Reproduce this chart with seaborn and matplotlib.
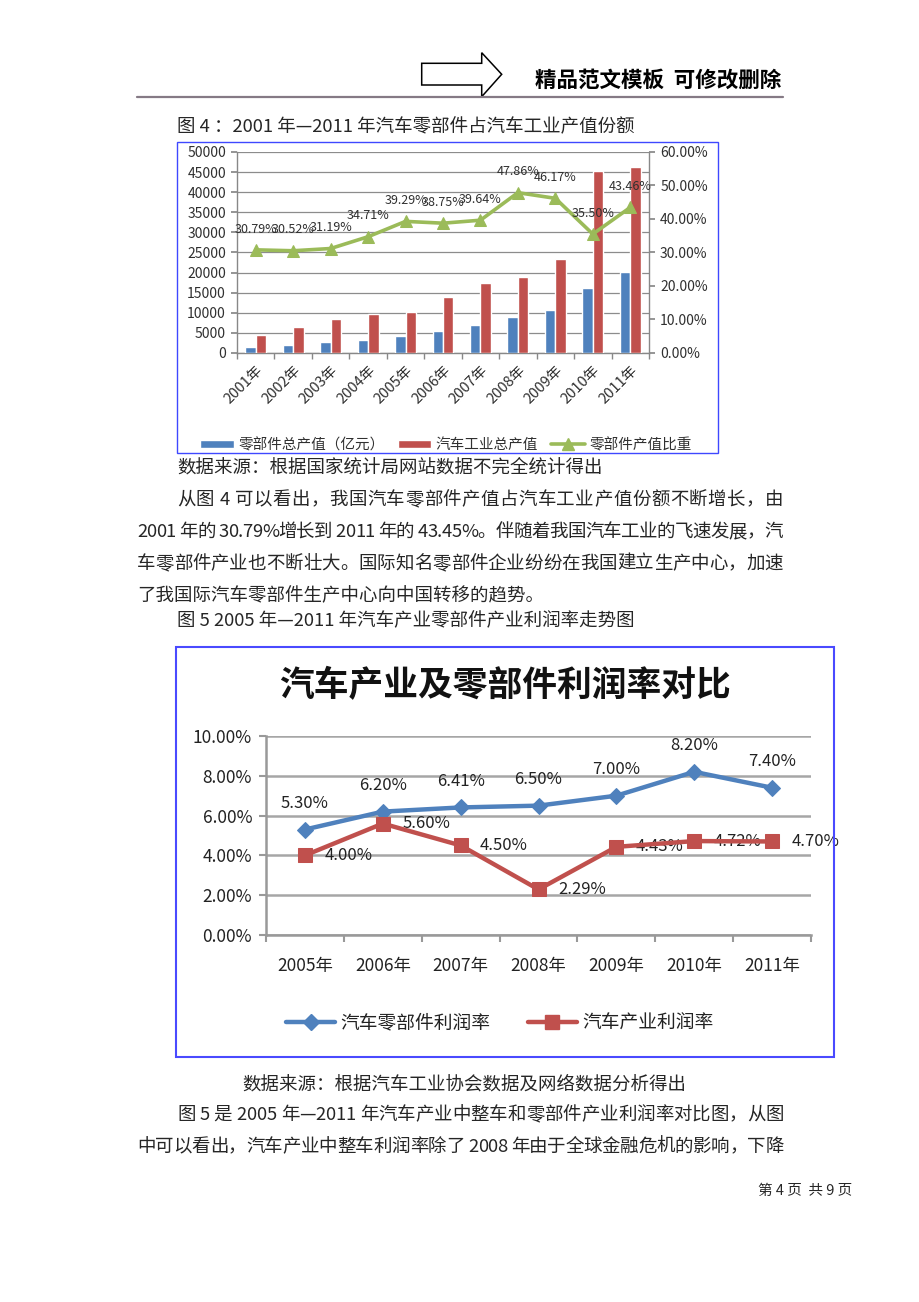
import numpy as np
import pandas as pd
import matplotlib
matplotlib.use("Agg")
import matplotlib.pyplot as plt
import seaborn as sns
from matplotlib.patches import Rectangle, Polygon, Patch
from matplotlib.lines import Line2D
from matplotlib.ticker import FixedLocator

# ---------------- data ----------------
years1 = ['2001年', '2002年', '2003年', '2004年', '2005年', '2006年',
          '2007年', '2008年', '2009年', '2010年', '2011年']
parts_value = [1500, 2070, 2730, 3300, 4130, 5540, 7020, 9000, 10740, 16200, 20170]
industry_value = [4380, 6450, 8430, 9670, 10170, 14050, 17440, 18840, 23470, 45290, 46200]
parts_share = [30.79, 30.52, 31.19, 34.71, 39.29, 38.75, 39.64, 47.86, 46.17, 35.50, 43.46]
series1 = ['零部件总产值（亿元）', '汽车工业总产值', '零部件产值比重']
left_ticks1 = [0, 5000, 10000, 15000, 20000, 25000, 30000, 35000, 40000, 45000, 50000]
right_ticks1 = [0, 10, 20, 30, 40, 50, 60]

years2 = ['2005年', '2006年', '2007年', '2008年', '2009年', '2010年', '2011年']
parts_profit = [5.30, 6.20, 6.41, 6.50, 7.00, 8.20, 7.40]
industry_profit = [4.00, 5.60, 4.50, 2.29, 4.43, 4.72, 4.70]
series2 = ['汽车零部件利润率', '汽车产业利润率']
yticks2 = [0, 2, 4, 6, 8, 10]

header_text = '精品范文模板  可修改删除'
caption4 = '图 4 ：2001 年—2011 年汽车零部件占汽车工业产值份额'
source4 = '数据来源：根据国家统计局网站数据不完全统计得出'
para1 = ['从图 4 可以看出，我国汽车零部件产值占汽车工业产值份额不断增长，由',
         '2001 年的 30.79%增长到 2011 年的 43.45%。伴随着我国汽车工业的飞速发展，汽',
         '车零部件产业也不断壮大。国际知名零部件企业纷纷在我国建立生产中心，加速',
         '了我国际汽车零部件生产中心向中国转移的趋势。']
caption5 = '图 5 2005 年—2011 年汽车产业零部件产业利润率走势图'
title5 = '汽车产业及零部件利润率对比'
source5 = '数据来源：根据汽车工业协会数据及网络数据分析得出'
para2 = ['图 5 是 2005 年—2011 年汽车产业中整车和零部件产业利润率对比图，从图',
         '中可以看出，汽车产业中整车利润率除了 2008 年由于全球金融危机的影响，下降']
footer = '第 4 页  共 9 页'

BLUE, RED, GREEN = '#4F81BD', '#C0504D', '#9BBB59'

# ---------------- figure ----------------
W, H = 920, 1302
sns.set_theme(style='white')
plt.rcParams['font.family'] = ['Noto Sans CJK SC', 'DejaVu Sans']
fig = plt.figure(figsize=(W / 100, H / 100), dpi=100)
fig.patch.set_facecolor('white')
renderer = fig.canvas.get_renderer()


def fx(x):
    return x / W


def fy(y):
    return 1 - y / H


def rect(x0, y0, x1, y1):
    return [x0 / W, 1 - y1 / H, (x1 - x0) / W, (y1 - y0) / H]


def text_width(s, size):
    t = fig.text(0, 0, s, fontsize=size)
    w = t.get_window_extent(renderer).width
    t.remove()
    return w


def justified(x0, x1, y, s, size):
    base = text_width('xx', size)
    widths = [text_width('x' + ch + 'x', size) - base for ch in s]
    extra = (x1 - x0 - sum(widths)) / (len(s) - 1)
    x = x0
    for ch, w in zip(s, widths):
        if ch != ' ':
            fig.text(fx(x), fy(y), ch, fontsize=size, ha='left', va='center')
        x += w + extra


# header arrow and rule
arrow_px = [(421.7, 63.3), (481.7, 63.3), (481.7, 52.7), (501.7, 74.3),
            (481.7, 96.7), (481.7, 85.0), (421.7, 85.0)]
fig.add_artist(Polygon([(fx(a), fy(b)) for a, b in arrow_px], closed=True,
                       facecolor='white', edgecolor='black', lw=1.1,
                       transform=fig.transFigure))
fig.add_artist(Line2D([fx(137), fx(783)], [fy(96.5), fy(96.5)], color='#857a85',
                      lw=1.6, transform=fig.transFigure))
fig.text(fx(781), fy(80), header_text, fontsize=15.5, fontweight='bold',
         ha='right', va='center', color='black')

TXT = 13.3
fig.text(fx(177), fy(127), caption4, fontsize=TXT, ha='left', va='center')
fig.text(fx(177), fy(468), source4, fontsize=TXT, ha='left', va='center')
for i, line in enumerate(para1):
    x0 = 177 if i == 0 else 137
    if i < 3:
        justified(x0, 783, 500 + 32 * i, line, TXT)
    else:
        fig.text(fx(x0), fy(500 + 32 * i), line, fontsize=TXT, ha='left', va='center')
fig.text(fx(177), fy(621), caption5, fontsize=TXT, ha='left', va='center')
fig.text(fx(242), fy(1085), source5, fontsize=TXT, ha='left', va='center')
for i, line in enumerate(para2):
    justified(177 if i == 0 else 137, 784, 1115 + 32 * i, line, TXT)
fig.text(fx(852), fy(1191), footer, fontsize=10.5, ha='right', va='center')

# ---------------- chart 1 ----------------
fig.add_artist(Rectangle((fx(177), fy(453)), (718 - 177) / W, (453 - 142) / H,
                         fill=False, edgecolor='#3f48ff', lw=1.0,
                         transform=fig.transFigure))
n1 = len(years1)
ax1 = fig.add_axes(rect(237, 152, 649, 353))
df1 = pd.DataFrame({'year': years1 * 2,
                    'value': parts_value + industry_value,
                    'series': [series1[0]] * n1 + [series1[1]] * n1})
sns.barplot(data=df1, x='year', y='value', hue='series',
            palette=[BLUE, RED], width=0.56, saturation=1, ax=ax1,
            legend=False, zorder=3)
ax1.set_ylim(0, 50000)
ax1.set_xlim(-0.5, n1 - 0.5)
ax1.set_yticks(left_ticks1)
ax1.set_yticklabels([str(v) for v in left_ticks1], fontsize=10, color='#303030')
ax1.yaxis.grid(True, color='#8c8c8c', lw=0.9)
ax1.set_axisbelow(True)
ax1.set_xlabel('')
ax1.set_ylabel('')
ax1.set_xticks(range(n1))
ax1.set_xticklabels(years1, rotation=45, ha='right', va='top',
                    rotation_mode='anchor', fontsize=10.5, color='#303030')
ax1.xaxis.set_minor_locator(FixedLocator(np.arange(-0.5, n1, 1.0)))
ax1.tick_params(axis='x', which='major', length=0, pad=7)
ax1.tick_params(axis='x', which='minor', length=4, color='#888888', bottom=True)
ax1.tick_params(axis='y', which='major', left=True, length=4, color='#888888', pad=4)
for s in ['left', 'bottom', 'right']:
    ax1.spines[s].set_visible(True)
    ax1.spines[s].set_color('#888888')
    ax1.spines[s].set_linewidth(1.0)
ax1.spines['top'].set_visible(False)

ax2 = ax1.twinx()
sns.lineplot(x=np.arange(n1), y=parts_share, ax=ax2, color=GREEN, lw=2.6,
             marker='^', markersize=8.5, markeredgecolor=GREEN, zorder=5)
ax2.set_xlim(-0.5, n1 - 0.5)
ax2.set_ylim(0, 60)
ax2.set_yticks(right_ticks1)
ax2.set_yticklabels([f'{v:.2f}%' for v in right_ticks1], fontsize=10, color='#303030')
ax2.tick_params(axis='y', right=True, length=4, color='#888888', pad=4)
ax2.set_ylabel('')
for s in ax2.spines.values():
    s.set_visible(False)
for i, v in enumerate(parts_share):
    ax2.annotate(f'{v:.2f}%', (i, v), xytext=(0, 15), textcoords='offset points',
                 ha='center', va='center', fontsize=9, color='#303030', zorder=6)

h1 = [Patch(facecolor=BLUE), Patch(facecolor=RED),
      Line2D([], [], color=GREEN, lw=2.6, marker='^', markersize=8.5)]
fig.legend(h1, series1, loc='center', bbox_to_anchor=(fx(446), fy(445)), ncol=3,
           frameon=False, fontsize=10.5, handlelength=2.3, handleheight=0.55,
           columnspacing=0.9, handletextpad=0.3, labelcolor='#303030')

# ---------------- chart 2 ----------------
fig.add_artist(Rectangle((fx(176), fy(1057)), (834 - 176) / W, (1057 - 647) / H,
                         fill=False, edgecolor='#4a4aff', lw=1.5,
                         transform=fig.transFigure))
fig.text(fx(505), fy(686), title5, fontsize=25, fontweight='bold',
         ha='center', va='center', color='#111111')

n2 = len(years2)
ax3 = fig.add_axes(rect(266, 736, 811, 935))
pos2 = np.arange(n2)
sns.lineplot(x=pos2, y=parts_profit, ax=ax3, color=BLUE, lw=3.2, marker='D',
             markersize=8, markeredgecolor=BLUE, zorder=4)
sns.lineplot(x=pos2, y=industry_profit, ax=ax3, color=RED, lw=3.2, marker='s',
             markersize=10, markeredgecolor=RED, zorder=4)
ax3.set_xlim(-0.5, n2 - 0.5)
ax3.set_ylim(0, 10)
ax3.set_yticks(yticks2)
ax3.set_yticklabels([f'{v:.2f}%' for v in yticks2], fontsize=12.5, color='#222222')
ax3.set_xticks(pos2)
ax3.set_xticklabels(years2, fontsize=12.5, color='#222222')
ax3.xaxis.set_minor_locator(FixedLocator(np.arange(-0.5, n2, 1.0)))
ax3.tick_params(axis='x', which='major', length=0, pad=16)
ax3.tick_params(axis='x', which='minor', length=5, width=1.5, color='#999999', bottom=True)
ax3.tick_params(axis='y', left=True, length=5, width=1.5, color='#999999', pad=5)
ax3.yaxis.grid(True, color='#a6a6a6', lw=1.8)
ax3.set_axisbelow(True)
ax3.set_xlabel('')
ax3.set_ylabel('')
for s in ['top', 'right']:
    ax3.spines[s].set_visible(False)
for s in ['left', 'bottom']:
    ax3.spines[s].set_color('#999999')
    ax3.spines[s].set_linewidth(1.8)
for i, v in enumerate(parts_profit):
    ax3.annotate(f'{v:.2f}%', (i, v), xytext=(0, 19), textcoords='offset points',
                 ha='center', va='center', fontsize=12, color='#222222')
for i, v in enumerate(industry_profit):
    ax3.annotate(f'{v:.2f}%', (i, v), xytext=(14, 0), textcoords='offset points',
                 ha='left', va='center', fontsize=12, color='#222222')

h2 = [Line2D([], [], color=BLUE, lw=3.2, marker='D', markersize=8),
      Line2D([], [], color=RED, lw=3.2, marker='s', markersize=10)]
fig.legend(h2, series2, loc='center', bbox_to_anchor=(fx(500), fy(1023)), ncol=2,
           frameon=False, fontsize=13.5, handlelength=2.6, columnspacing=2.0,
           handletextpad=0.3, labelcolor='#222222')

fig.savefig('out.png', dpi=100, facecolor='white')
